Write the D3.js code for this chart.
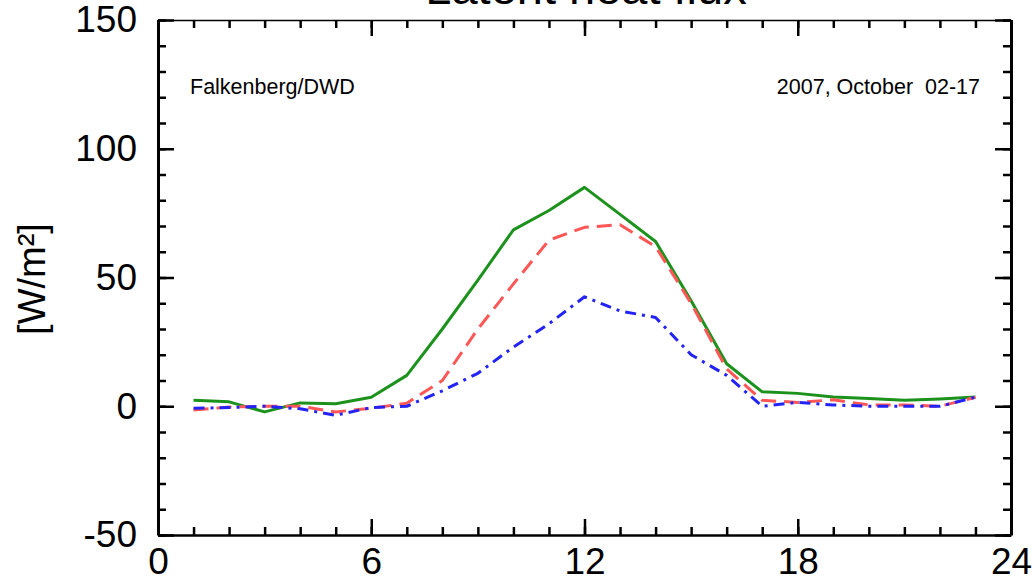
<!DOCTYPE html>
<html>
<head>
<meta charset="utf-8">
<script src="https://cdn.jsdelivr.net/npm/d3@7"></script>
<style>
  body { margin: 0; background: #fff; }
  svg { font-family: "Liberation Sans", Arial, Helvetica, sans-serif; }
  .axis path { stroke: #000; }
  .axis line { stroke: #000; stroke-width: 2.5px; }
  .axis text { font-size: 37px; fill: #000; }
</style>
</head>
<body>
<svg id="chart" width="1035" height="583"></svg>
<script>
// hours of the day (mean diurnal cycle)
var hours = [1, 2, 3, 4, 5, 6, 7, 8, 9, 10, 11, 12, 13, 14, 15, 16, 17, 18, 19, 20, 21, 22, 23];

// latent heat flux, W/m2
var seriesGreen = [2.3, 1.7, -2.2, 1.3, 1.0, 3.5, 12, 30, 49, 68.5, 76, 85, 74.5, 64, 41, 16.5, 5.6, 5, 3.6, 3, 2.3, 2.8, 3.6];
var seriesRed   = [-1.5, -0.3, 0, 0, -2.2, -0.8, 1.2, 10, 30, 47.5, 64.5, 69.5, 70.5, 62, 40, 14.5, 2.3, 1.5, 2.5, 0.5, 0.5, 0, 3.5];
var seriesBlue  = [-0.8, -0.5, 0, -1, -3.5, -0.5, 0, 6, 12.8, 23, 32, 42.5, 37, 34.5, 20, 12, 0, 1.5, 0.5, 0, 0, 0, 3.5];

var xTicksMajor = [0, 6, 12, 18, 24];
var yTicksMajor = [-50, 0, 50, 100, 150];

var title = "Latent heat flux";
var yLabel = "[W/m\u00B2]";
var stationText = "Falkenberg/DWD";
var periodText = "2007, October  02-17";

var svg = d3.select("#chart");
var plot_left = 158, plot_right = 1011, plot_top = 20, plot_bottom = 535;

var xScale = d3.scaleLinear().domain([0, 24]).range([plot_left, plot_right]);
var yScale = d3.scaleLinear().domain([-50, 150]).range([plot_bottom, plot_top]);

// plain hyphen for negatives, like the original plot
var fmt = function(d) { return String(d); };

// bottom axis (ticks point inward)
svg.append("g")
	.attr("class", "axis")
	.attr("transform", "translate(0," + plot_bottom + ")")
	.call(d3.axisBottom(xScale).tickValues(d3.range(0, 25, 1)).tickSize(-8).tickSizeOuter(0).tickFormat(""))
	.call(function(g) { g.select(".domain").style("stroke-width", "2.5px"); });

svg.append("g")
	.attr("class", "axis")
	.attr("transform", "translate(0," + plot_bottom + ")")
	.call(d3.axisBottom(xScale).tickValues(xTicksMajor).tickSize(-16).tickSizeOuter(0).tickPadding(13).tickFormat(fmt))
	.call(function(g) { g.select(".domain").remove(); });

// top axis
svg.append("g")
	.attr("class", "axis")
	.attr("transform", "translate(0," + plot_top + ")")
	.call(d3.axisTop(xScale).tickValues(d3.range(0, 25, 1)).tickSize(-8).tickSizeOuter(0).tickFormat(""))
	.call(function(g) { g.select(".domain").style("stroke-width", "1.5px"); });

svg.append("g")
	.attr("class", "axis")
	.attr("transform", "translate(0," + plot_top + ")")
	.call(d3.axisTop(xScale).tickValues(xTicksMajor).tickSize(-16).tickSizeOuter(0).tickFormat(""))
	.call(function(g) { g.select(".domain").remove(); });

// left axis
svg.append("g")
	.attr("class", "axis")
	.attr("transform", "translate(" + plot_left + ",0)")
	.call(d3.axisLeft(yScale).tickValues(d3.range(-50, 151, 10)).tickSize(-8).tickSizeOuter(0).tickFormat(""))
	.call(function(g) { g.select(".domain").style("stroke-width", "3px"); });

svg.append("g")
	.attr("class", "axis")
	.attr("transform", "translate(" + plot_left + ",0)")
	.call(d3.axisLeft(yScale).tickValues(yTicksMajor).tickSize(-16).tickSizeOuter(0).tickPadding(21).tickFormat(fmt))
	.call(function(g) { g.select(".domain").remove(); });

// right axis
svg.append("g")
	.attr("class", "axis")
	.attr("transform", "translate(" + plot_right + ",0)")
	.call(d3.axisRight(yScale).tickValues(d3.range(-50, 151, 10)).tickSize(-8).tickSizeOuter(0).tickFormat(""))
	.call(function(g) { g.select(".domain").style("stroke-width", "3px"); });

svg.append("g")
	.attr("class", "axis")
	.attr("transform", "translate(" + plot_right + ",0)")
	.call(d3.axisRight(yScale).tickValues(yTicksMajor).tickSize(-16).tickSizeOuter(0).tickFormat(""))
	.call(function(g) { g.select(".domain").remove(); });

// curves
var line = d3.line()
	.x(function(d) { return xScale(d[0]); })
	.y(function(d) { return yScale(d[1]); });

function addSeries(values, color, dash) {
	svg.append("path")
		.datum(d3.zip(hours, values))
		.attr("d", line)
		.style("fill", "none")
		.style("stroke", color)
		.style("stroke-width", "3px")
		.style("stroke-linejoin", "round")
		.style("stroke-dasharray", dash);
}

addSeries(seriesGreen, "#1c921c", null);
addSeries(seriesRed, "#ff5656", "15,8");
addSeries(seriesBlue, "#2323f5", "11,6,3,6");

// texts
svg.append("text")
	.attr("x", 586)
	.attr("y", 4)
	.attr("text-anchor", "middle")
	.style("font-size", "47px")
	.text(title);

svg.append("text")
	.attr("transform", "translate(45,279) rotate(-90)")
	.attr("text-anchor", "middle")
	.style("font-size", "38px")
	.text(yLabel);

svg.append("text")
	.attr("x", 190)
	.attr("y", 94)
	.style("font-size", "21.5px")
	.text(stationText);

svg.append("text")
	.attr("x", 980)
	.attr("y", 94)
	.attr("text-anchor", "end")
	.style("font-size", "21.5px")
	.style("white-space", "pre")
	.text(periodText);
</script>
</body>
</html>
